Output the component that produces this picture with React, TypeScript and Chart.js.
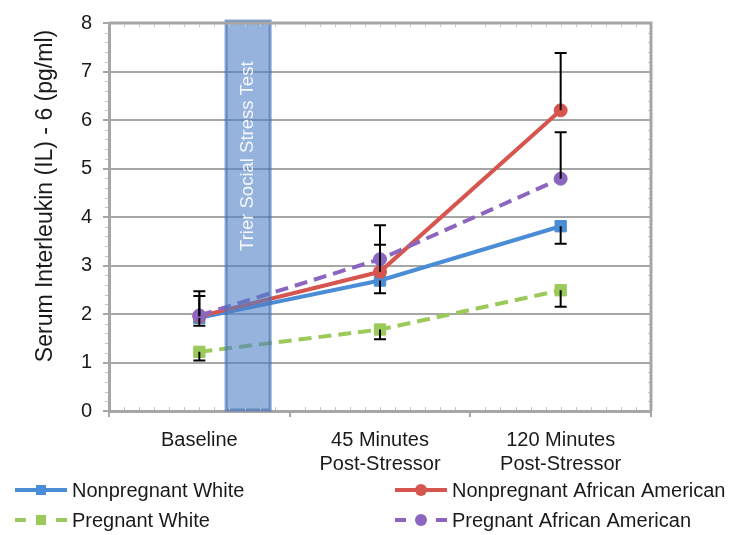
import React, { useEffect, useRef } from 'react';
import { Chart, registerables } from 'chart.js';

Chart.register(...registerables);

const categories: (string | string[])[] = ['Baseline', ['45 Minutes', 'Post-Stressor'], ['120 Minutes', 'Post-Stressor']];
const yTickMin = 0;
const yTickMax = 8;
const yTickStep = 1;
const yTitle = 'Serum Interleukin (IL) - 6 (pg/ml)';
const seriesNames = ['Nonpregnant White', 'Nonpregnant African American', 'Pregnant White', 'Pregnant African American'];
const nonpregnantWhite = [1.92, 2.69, 3.81];
const nonpregnantAfricanAmerican = [1.95, 2.87, 6.2];
const pregnantWhite = [1.22, 1.68, 2.49];
const pregnantAfricanAmerican = [1.97, 3.13, 4.79];
const nonpregnantWhiteErrDown = [0.16, 0.26, 0.36];
const nonpregnantAfricanAmericanErrUp = [0.42, 0.56, 1.18];
const pregnantWhiteErrDown = [0.18, 0.2, 0.34];
const pregnantAfricanAmericanErrUp = [0.5, 0.7, 0.96];
const stressTestLabel = 'Trier Social Stress Test';
const stressTestSpan = [0.148, 0.392]; // category-index units

const FONT = '"Liberation Sans", Arial, Helvetica, sans-serif';
const GRID = '#a6a6a6';
const BLUE = '#4a8dd6';
const RED = '#d6564f';
const GREEN = '#9bc95a';
const PURPLE = '#8c66be';
const DASH = [13, 7];

function drawMarker(ctx: CanvasRenderingContext2D, style: string, x: number, y: number, color: string) {
  ctx.save();
  ctx.fillStyle = color;
  ctx.beginPath();
  if (style === 'rect') {
    ctx.rect(x - 5, y - 5, 10, 10);
  } else {
    ctx.arc(x, y, 6, 0, Math.PI * 2);
  }
  ctx.fill();
  ctx.restore();
}

const decorPlugin = {
  id: 'decor',
  afterDatasetsDraw(chart: any) {
    const ctx: CanvasRenderingContext2D = chart.ctx;
    const xs = chart.scales.x;
    const ys = chart.scales.y;
    const area = chart.chartArea;
    // error bars
    chart.data.datasets.forEach((ds: any, di: number) => {
      const meta = chart.getDatasetMeta(di);
      ds.data.forEach((v: number, i: number) => {
        const pt = meta.data[i];
        if (!pt) return;
        const x = pt.x;
        const y0 = ys.getPixelForValue(v);
        const draw = (val: number) => {
          const y1 = ys.getPixelForValue(val);
          ctx.save();
          ctx.strokeStyle = '#000';
          ctx.lineWidth = 2;
          ctx.beginPath();
          ctx.moveTo(x, y0);
          ctx.lineTo(x, y1);
          ctx.moveTo(x - 6, y1);
          ctx.lineTo(x + 6, y1);
          ctx.stroke();
          ctx.restore();
        };
        if (ds.errorUp) draw(v + ds.errorUp[i]);
        if (ds.errorDown) draw(v - ds.errorDown[i]);
      });
    });
    // stress test band
    const x1 = xs.getPixelForValue(stressTestSpan[0]);
    const x2 = xs.getPixelForValue(stressTestSpan[1]);
    const yTop = ys.getPixelForValue(yTickMax) - 2;
    const yBot = ys.getPixelForValue(yTickMin) - 1;
    ctx.save();
    ctx.fillStyle = 'rgba(79,129,199,0.6)';
    ctx.fillRect(x1, yTop, x2 - x1, yBot - yTop);
    ctx.strokeStyle = 'rgba(70,115,185,0.65)';
    ctx.lineWidth = 3;
    ctx.strokeRect(x1, yTop, x2 - x1, yBot - yTop);
    ctx.translate((x1 + x2) / 2, ys.getPixelForValue(3.3));
    ctx.rotate(-Math.PI / 2);
    ctx.fillStyle = 'rgba(255,255,255,0.9)';
    ctx.font = `18.5px ${FONT}`;
    ctx.textAlign = 'left';
    ctx.textBaseline = 'middle';
    ctx.fillText(stressTestLabel, 0, 0);
    ctx.restore();
    // top and right borders
    ctx.save();
    ctx.strokeStyle = GRID;
    ctx.lineWidth = 3;
    ctx.beginPath();
    ctx.moveTo(area.left, area.top);
    ctx.lineTo(area.right, area.top);
    ctx.lineTo(area.right, area.bottom);
    ctx.stroke();
    // minor ticks
    ctx.lineWidth = 1;
    ctx.strokeStyle = '#c4c4c4';
    ctx.beginPath();
    for (let v = yTickMin; v < yTickMax; v += yTickStep) {
      for (let k = 1; k < 5; k++) {
        const y = Math.round(ys.getPixelForValue(v + (k * yTickStep) / 5)) + 0.5;
        ctx.moveTo(area.left - 4, y);
        ctx.lineTo(area.left - 1, y);
        ctx.moveTo(area.right - 3, y);
        ctx.lineTo(area.right - 1, y);
      }
    }
    const catW = (area.right - area.left) / categories.length;
    for (let c = 0; c < categories.length; c++) {
      for (let k = 1; k < 12; k++) {
        const x = Math.round(area.left + c * catW + (k * catW) / 12) + 0.5;
        ctx.moveTo(x, area.bottom - 4);
        ctx.lineTo(x, area.bottom - 1);
        ctx.moveTo(x, area.top + 1);
        ctx.lineTo(x, area.top + 4);
      }
    }
    ctx.stroke();
    ctx.restore();
  },
  afterDraw(chart: any) {
    const ctx: CanvasRenderingContext2D = chart.ctx;
    // y title
    ctx.save();
    ctx.translate(46, 196);
    ctx.rotate(-Math.PI / 2);
    ctx.font = `23px ${FONT}`;
    ctx.fillStyle = '#1a1a1a';
    ctx.textAlign = 'center';
    ctx.textBaseline = 'middle';
    ctx.fillText(yTitle, 0, 0);
    ctx.restore();
    // legend
    const slots = [
      { x: 15, y: 490 },
      { x: 395, y: 490 },
      { x: 15, y: 520 },
      { x: 395, y: 520 },
    ];
    chart.data.datasets.forEach((ds: any) => {
      const slot = slots[ds.legendSlot];
      const { x, y } = slot;
      ctx.save();
      ctx.strokeStyle = ds.borderColor;
      ctx.lineWidth = 4;
      ctx.beginPath();
      if (ds.borderDash && ds.borderDash.length) {
        ctx.moveTo(x, y);
        ctx.lineTo(x + 11, y);
        ctx.moveTo(x + 41, y);
        ctx.lineTo(x + 52, y);
      } else {
        ctx.moveTo(x, y);
        ctx.lineTo(x + 52, y);
      }
      ctx.stroke();
      drawMarker(ctx, ds.pointStyle, x + 26, y, ds.borderColor);
      ctx.font = `20px ${FONT}`;
      ctx.fillStyle = '#1a1a1a';
      ctx.textAlign = 'left';
      ctx.textBaseline = 'middle';
      ctx.fillText(ds.label, x + 57, y + 1.5);
      ctx.restore();
    });
  },
};

export default function App() {
  const canvasRef = useRef<HTMLCanvasElement | null>(null);
  useEffect(() => {
    if (!canvasRef.current) return;
    const mk = (label: string, data: number[], color: string, style: string, dashed: boolean, order: number, slot: number, extra: any) => ({
      label,
      data,
      borderColor: color,
      backgroundColor: color,
      pointBackgroundColor: color,
      pointBorderColor: color,
      pointBorderWidth: 1,
      borderWidth: 4,
      borderDash: dashed ? DASH : [],
      pointStyle: style,
      pointRadius: style === 'rect' ? 8 : 6.5,
      tension: 0,
      order,
      legendSlot: slot,
      ...extra,
    });
    const chart = new Chart(canvasRef.current, {
      type: 'line',
      data: {
        labels: categories as any,
        datasets: [
          mk(seriesNames[0], nonpregnantWhite, BLUE, 'rect', false, 2, 0, { errorDown: nonpregnantWhiteErrDown }),
          mk(seriesNames[1], nonpregnantAfricanAmerican, RED, 'circle', false, 1, 1, { errorUp: nonpregnantAfricanAmericanErrUp }),
          mk(seriesNames[2], pregnantWhite, GREEN, 'rect', true, 3, 2, { errorDown: pregnantWhiteErrDown }),
          mk(seriesNames[3], pregnantAfricanAmerican, PURPLE, 'circle', true, 0, 3, { errorUp: pregnantAfricanAmericanErrUp }),
        ] as any,
      },
      options: {
        animation: false,
        responsive: false,
        devicePixelRatio: 1,
        layout: { padding: { left: 0, top: 12, right: 82, bottom: 0 } },
        plugins: { legend: { display: false }, tooltip: { enabled: false }, title: { display: false } },
        scales: {
          x: {
            type: 'category',
            offset: true,
            grid: { offset: true, drawOnChartArea: false, tickLength: 6, color: GRID, lineWidth: 2 },
            border: { display: true, color: GRID, width: 3 },
            ticks: { font: { family: FONT, size: 20, lineHeight: 1.2 }, color: '#1a1a1a', padding: 11, maxRotation: 0, autoSkip: false },
            afterFit: (s: any) => { s.height = 124; },
          },
          y: {
            min: yTickMin,
            max: yTickMax,
            ticks: { stepSize: yTickStep, font: { family: FONT, size: 20 }, color: '#1a1a1a', padding: 11 },
            grid: { color: GRID, lineWidth: 2, tickLength: 6 },
            border: { display: true, color: GRID, width: 3 },
            afterFit: (s: any) => { s.width = 109; },
          },
        },
      } as any,
      plugins: [decorPlugin],
    });
    return () => chart.destroy();
  }, []);
  return (
    <div style={{ position: 'absolute', left: 0, top: 0, width: 733, height: 535, background: '#fff' }}>
      <canvas ref={canvasRef} width={733} height={535} style={{ width: 733, height: 535, display: 'block' }} />
    </div>
  );
}
